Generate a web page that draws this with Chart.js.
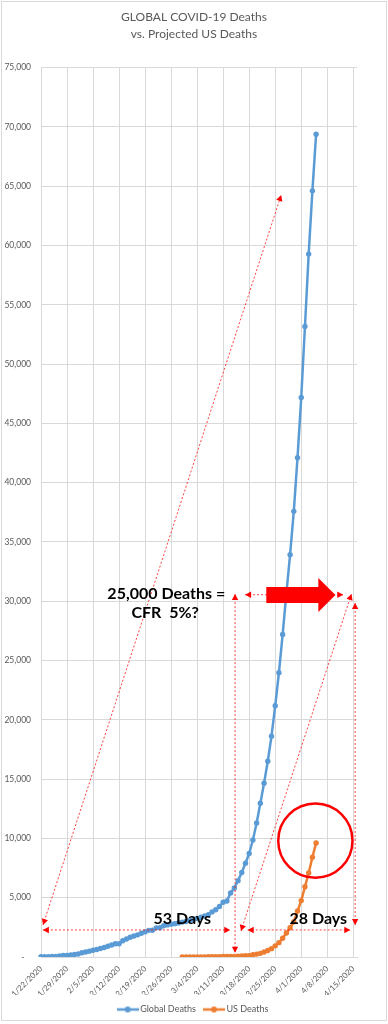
<!DOCTYPE html>
<html>
<head>
<meta charset="utf-8">
<script src="https://cdn.jsdelivr.net/npm/chart.js@4.4.1/dist/chart.umd.min.js"></script>
<style>
  html, body { margin: 0; padding: 0; background: #fff; }
  canvas { display: block; }
</style>
</head>
<body>
<canvas id="deathsChart" width="388" height="1024"></canvas>
<script>
const dates = [
  '1/22/2020', '1/23/2020', '1/24/2020', '1/25/2020', '1/26/2020', '1/27/2020', '1/28/2020',
  '1/29/2020', '1/30/2020', '1/31/2020', '2/1/2020', '2/2/2020', '2/3/2020', '2/4/2020',
  '2/5/2020', '2/6/2020', '2/7/2020', '2/8/2020', '2/9/2020', '2/10/2020', '2/11/2020',
  '2/12/2020', '2/13/2020', '2/14/2020', '2/15/2020', '2/16/2020', '2/17/2020', '2/18/2020',
  '2/19/2020', '2/20/2020', '2/21/2020', '2/22/2020', '2/23/2020', '2/24/2020', '2/25/2020',
  '2/26/2020', '2/27/2020', '2/28/2020', '2/29/2020', '3/1/2020', '3/2/2020', '3/3/2020',
  '3/4/2020', '3/5/2020', '3/6/2020', '3/7/2020', '3/8/2020', '3/9/2020', '3/10/2020',
  '3/11/2020', '3/12/2020', '3/13/2020', '3/14/2020', '3/15/2020', '3/16/2020', '3/17/2020',
  '3/18/2020', '3/19/2020', '3/20/2020', '3/21/2020', '3/22/2020', '3/23/2020', '3/24/2020',
  '3/25/2020', '3/26/2020', '3/27/2020', '3/28/2020', '3/29/2020', '3/30/2020', '3/31/2020',
  '4/1/2020', '4/2/2020', '4/3/2020', '4/4/2020', '4/5/2020', '4/6/2020', '4/7/2020',
  '4/8/2020', '4/9/2020', '4/10/2020', '4/11/2020', '4/12/2020', '4/13/2020', '4/14/2020',
  '4/15/2020', '4/16/2020'
];

// cumulative deaths from 1/22
const globalDeaths = [
  17, 18, 26, 42, 56, 82, 131, 133, 171, 213,
  259, 362, 426, 492, 564, 634, 719, 806, 906, 1013,
  1113, 1118, 1371, 1523, 1666, 1770, 1868, 2007, 2122, 2247,
  2251, 2458, 2469, 2629, 2708, 2770, 2814, 2872, 2941, 2996,
  3085, 3160, 3254, 3348, 3460, 3558, 3802, 3988, 4262, 4615,
  4720, 5404, 5819, 6440, 7126, 7905, 8733, 9867, 11299, 12973,
  14651, 16505, 18625, 21181, 23970, 27198, 30652, 33925, 37582, 42107,
  47180, 53163, 59273, 64606, 69374
];

// US series starts on 2/29
const usStart = '2/29/2020';
const usDeaths = [
  1, 1, 6, 7, 11, 12, 14, 17, 21, 22,
  28, 36, 40, 47, 54, 63, 85, 108, 118, 200,
  244, 307, 427, 552, 706, 942, 1209, 1581, 2026, 2467,
  2978, 3873, 4757, 5926, 7087, 8407, 9619
];

// callouts, in [day index, deaths]
const dottedArrows = [
  [[0.55, 2700], [64.6, 64250]],
  [[0.5, 2280], [50.9, 2280]],
  [[52.2, 30600], [52.2, 360]],
  [[53.8, 2200], [83.5, 30600]],
  [[55.6, 2280], [83.2, 2280]],
  [[84.5, 29850], [84.5, 2700]],
  [[54.9, 30550], [81.3, 30550]]
];
const bigArrow = { from: [60.6, 30520], neck: 74.6, tip: 79.2 };
const circle = { at: [73.8, 9810], r: 3130 };
const notes = [
  { text: '25,000 Deaths =', at: [33.7, 30600] },
  { text: 'CFR  5%?', at: [33.4, 29000] },
  { text: '53 Days', at: [38.0, 3210] },
  { text: '28 Days', at: [74.6, 3210] }
];

const usData = dates.map(() => null);
usDeaths.forEach((v, i) => { usData[dates.indexOf(usStart) + i] = v; });

const gray = '#595959';
const gridColor = '#d9d9d9';
const blue = '#5b9bd5';
const orange = '#ed7d31';

function legendIcon(color) {
  const c = document.createElement('canvas');
  c.width = 22; c.height = 8;
  const g = c.getContext('2d');
  g.strokeStyle = color;
  g.lineWidth = 2.5;
  g.beginPath(); g.moveTo(0, 4); g.lineTo(22, 4); g.stroke();
  g.fillStyle = color;
  g.beginPath(); g.arc(11, 4, 3, 0, Math.PI * 2); g.fill();
  return c;
}

function arrowHead(ctx, x, y, ang) {
  const len = 6, half = 3.2;
  ctx.beginPath();
  ctx.moveTo(x, y);
  ctx.lineTo(x - len * Math.cos(ang) + half * Math.sin(ang), y - len * Math.sin(ang) - half * Math.cos(ang));
  ctx.lineTo(x - len * Math.cos(ang) - half * Math.sin(ang), y - len * Math.sin(ang) + half * Math.cos(ang));
  ctx.closePath();
  ctx.fill();
}

const frame = {
  id: 'frame',
  beforeDraw(chart) {
    const ctx = chart.ctx;
    ctx.save();
    ctx.fillStyle = '#fff';
    ctx.fillRect(0, 0, chart.width, chart.height);
    ctx.strokeStyle = gridColor;
    ctx.lineWidth = 1;
    ctx.strokeRect(1.5, 1.5, 385, 1019);
    ctx.restore();
  }
};

const callouts = {
  id: 'callouts',
  afterDatasetsDraw(chart) {
    const ctx = chart.ctx;
    const xs = chart.scales.x, ys = chart.scales.y;
    const px = d => xs.getPixelForValue(d);
    const py = v => ys.getPixelForValue(v);
    ctx.save();

    ctx.strokeStyle = 'rgba(255,0,0,0.75)';
    ctx.fillStyle = '#ff0000';
    ctx.lineWidth = 1;
    dottedArrows.forEach(([a, b]) => {
      const x1 = px(a[0]), y1 = py(a[1]), x2 = px(b[0]), y2 = py(b[1]);
      ctx.setLineDash([2, 2]);
      ctx.beginPath(); ctx.moveTo(x1, y1); ctx.lineTo(x2, y2); ctx.stroke();
      ctx.setLineDash([]);
      const ang = Math.atan2(y2 - y1, x2 - x1);
      arrowHead(ctx, x2, y2, ang);
      arrowHead(ctx, x1, y1, ang + Math.PI);
    });

    // big arrow
    const yc = py(bigArrow.from[1]);
    const x0 = px(bigArrow.from[0]), xn = px(bigArrow.neck), xt = px(bigArrow.tip);
    ctx.fillStyle = '#ff0000';
    ctx.beginPath();
    ctx.moveTo(x0, yc - 8);
    ctx.lineTo(xn, yc - 8);
    ctx.lineTo(xn, yc - 17);
    ctx.lineTo(xt, yc);
    ctx.lineTo(xn, yc + 17);
    ctx.lineTo(xn, yc + 8);
    ctx.lineTo(x0, yc + 8);
    ctx.closePath();
    ctx.fill();

    // circle round the US end point
    const cx = px(circle.at[0]), cy = py(circle.at[1]);
    const r = Math.abs(py(circle.at[1] - circle.r) - cy);
    ctx.strokeStyle = '#ff0000';
    ctx.lineWidth = 2.5;
    ctx.beginPath(); ctx.arc(cx, cy, r, 0, Math.PI * 2); ctx.stroke();

    ctx.fillStyle = '#000';
    ctx.font = 'bold 16px Lato';
    ctx.textAlign = 'center';
    ctx.textBaseline = 'middle';
    notes.forEach(n => ctx.fillText(n.text, px(n.at[0]), py(n.at[1])));
    ctx.restore();
  }
};

new Chart(document.getElementById('deathsChart'), {
  type: 'line',
  data: {
    labels: dates,
    datasets: [
      {
        label: 'Global Deaths',
        data: globalDeaths,
        borderColor: blue,
        backgroundColor: blue,
        borderWidth: 2.5,
        pointRadius: 2.7,
        pointBorderWidth: 0,
        pointBackgroundColor: blue
      },
      {
        label: 'US Deaths',
        data: usData,
        borderColor: orange,
        backgroundColor: orange,
        borderWidth: 2.5,
        pointRadius: 2.7,
        pointBorderWidth: 0,
        pointBackgroundColor: orange
      }
    ]
  },
  options: {
    responsive: false,
    animation: false,
    devicePixelRatio: 1,
    layout: { padding: 0 },
    plugins: {
      title: {
        display: true,
        text: ['GLOBAL COVID-19 Deaths', 'vs. Projected US Deaths'],
        color: gray,
        font: { family: 'Lato', size: 12, weight: 'normal', lineHeight: 1.4 },
        padding: { top: 9, bottom: 25 }
      },
      legend: {
        position: 'bottom',
        labels: {
          color: gray,
          font: { family: 'Lato', size: 9 },
          usePointStyle: true,
          pointStyleWidth: 16,
          padding: 10,
          generateLabels(chart) {
            return Chart.defaults.plugins.legend.labels.generateLabels(chart)
              .map(item => ({ ...item, pointStyle: legendIcon(item.strokeStyle) }));
          }
        }
      },
      tooltip: { enabled: false }
    },
    scales: {
      x: {
        type: 'category',
        afterBuildTicks(scale) {
          scale.ticks = scale.ticks.filter(t => t.value % 7 === 0);
        },
        afterFit(scale) { scale.height = 38; },
        grid: { color: gridColor, drawTicks: false },
        border: { color: gridColor },
        ticks: {
          color: gray,
          font: { family: 'Lato', size: 8 },
          autoSkip: false,
          minRotation: 45,
          maxRotation: 45,
          padding: 7
        }
      },
      y: {
        min: 0,
        max: 75000,
        afterFit(scale) { scale.width = 41; },
        grid: { color: gridColor, drawTicks: false },
        border: { display: false },
        ticks: {
          stepSize: 5000,
          color: gray,
          font: { family: 'Lato', size: 8.5 },
          padding: 10,
          callback: v => v === 0 ? '-   ' : v.toLocaleString('en-US')
        }
      },
      yRight: {
        position: 'right',
        display: true,
        afterFit(scale) { scale.width = 31; },
        grid: { display: false },
        border: { display: false },
        ticks: { display: false }
      }
    }
  },
  plugins: [frame, callouts]
});
</script>
</body>
</html>
